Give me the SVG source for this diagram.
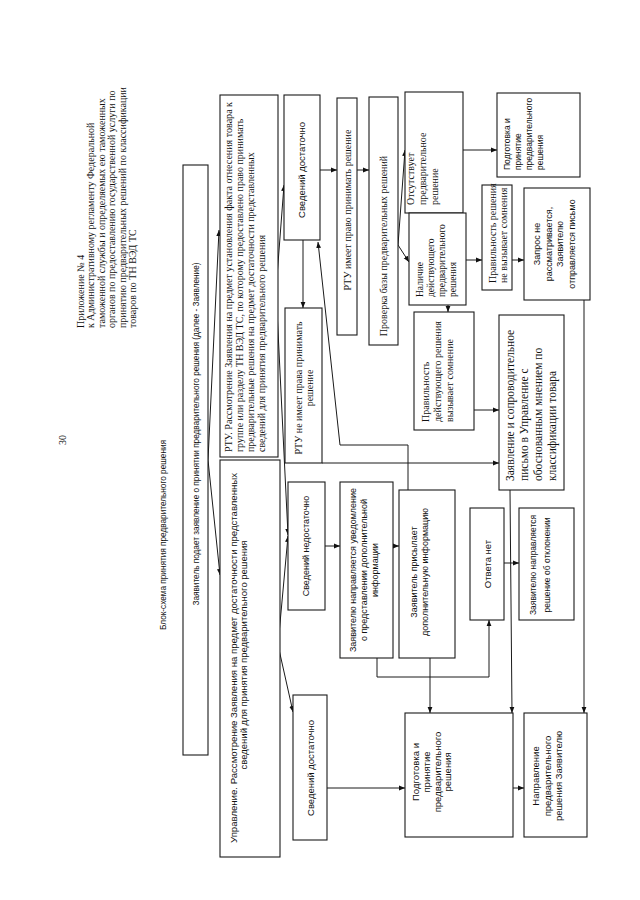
<svg xmlns="http://www.w3.org/2000/svg" width="640" height="900" viewBox="0 0 640 900">
<defs>
<marker id="ah" viewBox="0 0 10 10" refX="10" refY="5" markerWidth="6" markerHeight="6" orient="auto" markerUnits="userSpaceOnUse">
<path d="M0,1 L10,5 L0,9 z" fill="#111"/>
</marker>
<style>
.bx{fill:#fff;stroke:#1a1a1a;stroke-width:1.1}
.ln{fill:none;stroke:#1a1a1a;stroke-width:1;marker-end:url(#ah)}
.s{font-family:"Liberation Sans",Arial,sans-serif;font-size:9px;fill:#111}
.t{font-family:"Liberation Serif","Times New Roman",serif;font-size:10px;fill:#111}
.m{text-anchor:middle}
</style>
</defs>
<rect width="640" height="900" fill="#fff"/>

<g id="header">
<text class="t m" x="65.5" y="440" transform="rotate(-90 65.5 440)">30</text>
<text class="t" x="83.5" y="328" transform="rotate(-90 83.5 328)">Приложение № 4</text>
<text class="t" x="94" y="328" transform="rotate(-90 94 328)">к Административному регламенту Федеральной</text>
<text class="t" x="104.5" y="328" transform="rotate(-90 104.5 328)">таможенной службы и определяемых ею таможенных</text>
<text class="t" x="115" y="328" transform="rotate(-90 115 328)">органов по предоставлению государственной услуги по</text>
<text class="t" x="125.5" y="328" transform="rotate(-90 125.5 328)">принятию предварительных решений по классификации</text>
<text class="t" x="135.5" y="328" transform="rotate(-90 135.5 328)">товаров по ТН ВЭД ТС</text>
<text class="s m" x="166" y="535" transform="rotate(-90 166 535)" textLength="190" lengthAdjust="spacingAndGlyphs">Блок-схема принятия предварительного решения</text>
</g>

<g id="connectors">
<path class="ln" d="M208,460 L219,230"/>
<path class="ln" d="M208,460 L220,575"/>
<path class="ln" d="M276,290 L284,185"/>
<path class="ln" d="M276,290 L288,535"/>
<path class="ln" d="M278,645 L288,536"/>
<path class="ln" d="M278,645 L293,712"/>
<path class="ln" d="M320,170 L337,170"/>
<path class="ln" d="M357,170 L369,170"/>
<path class="ln" d="M303,240 L303,308"/>
<path class="ln" d="M398,245 L405,150"/>
<path class="ln" d="M398,245 L409,262"/>
<path class="ln" d="M463,150 L497,150"/>
<path class="ln" d="M466,260 L482,260"/>
<path class="ln" d="M512,260 L524,260"/>
<path class="ln" d="M448,305 L448,312"/>
<path class="ln" d="M474,410 L499,410"/>
<path class="ln" d="M322,463 L499,463"/>
<path class="ln" d="M325,546 L340,546"/>
<path class="ln" d="M393,546 L399,546"/>
<path class="ln" d="M408,490 L408,445 L340,445 L318,242"/>
<path class="ln" d="M377,658 L377,677 L489,677 L489,620"/>
<path class="ln" d="M430,658 L430,713"/>
<path class="ln" d="M504,563 L519,563"/>
<path class="ln" d="M510,490 L512,713"/>
<path class="ln" d="M584,300 L584,713"/>
<path class="ln" d="M327,788 L405,788"/>
<path class="ln" d="M513,788 L524,788"/>
</g>

<g id="n-applicant">
<rect class="bx" x="183" y="165" width="25" height="590"/>
<text class="s m" x="199" y="434" transform="rotate(-90 199 434)" textLength="343" lengthAdjust="spacingAndGlyphs">Заявитель подает заявление о принятии предварительного решения  (далее - Заявление)</text>
</g>

<g id="n-rtu">
<rect class="bx" x="220" y="95" width="58" height="362"/>
<text class="t" x="231.5" y="452" transform="rotate(-90 231.5 452)" textLength="350" lengthAdjust="spacingAndGlyphs">РТУ.  Рассмотрение Заявления на предмет установления факта отнесения товара к</text>
<text class="t" x="242.5" y="452" transform="rotate(-90 242.5 452)">группе или разделу ТН ВЭД ТС, по которому предоставлено право принимать</text>
<text class="t" x="253.5" y="452" transform="rotate(-90 253.5 452)">предварительные решения на предмет достаточности представленных</text>
<text class="t" x="264.5" y="452" transform="rotate(-90 264.5 452)">сведений для принятия предварительного решения</text>
</g>

<g id="n-upravlenie">
<rect class="bx" x="220" y="460" width="60" height="397"/>
<text class="s m" x="236.5" y="658" transform="rotate(-90 236.5 658)" textLength="370" lengthAdjust="spacingAndGlyphs" style="font-size:9.5px">Управление. Рассмотрение Заявления на предмет достаточности представленных</text>
<text class="s m" x="246.5" y="655" transform="rotate(-90 246.5 655)" style="font-size:9.5px">сведений для принятия предварительного решения</text>
</g>

<g id="n-dost1">
<rect class="bx" x="284" y="95" width="36" height="145"/>
<text class="s m" x="304.5" y="170" transform="rotate(-90 304.5 170)" style="font-size:9.5px">Сведений достаточно</text>
</g>

<g id="n-rtu-net">
<rect class="bx" x="285" y="308" width="37" height="155"/>
<text class="t m" x="301.5" y="388" transform="rotate(-90 301.5 388)">РТУ не имеет права принимать</text>
<text class="t m" x="312.5" y="388" transform="rotate(-90 312.5 388)">решение</text>
</g>

<g id="n-nedost">
<rect class="bx" x="288" y="482" width="37" height="128"/>
<text class="s m" x="308.5" y="546" transform="rotate(-90 308.5 546)">Сведений недостаточно</text>
</g>

<g id="n-dost2">
<rect class="bx" x="293" y="695" width="34" height="145"/>
<text class="s m" x="313.5" y="768" transform="rotate(-90 313.5 768)" style="font-size:9.5px">Сведений достаточно</text>
</g>

<g id="n-rtu-pravo">
<rect class="bx" x="337" y="98" width="20" height="237"/>
<text class="t m" x="350.5" y="210" transform="rotate(-90 350.5 210)">РТУ имеет право принимать решение</text>
</g>

<g id="n-proverka">
<rect class="bx" x="369" y="97" width="29" height="248"/>
<text class="t m" x="386.5" y="246" transform="rotate(-90 386.5 246)">Проверка базы предварительных решений</text>
</g>

<g id="n-otsutstvuet">
<rect class="bx" x="405" y="92" width="58" height="121"/>
<text class="t" x="414" y="205" transform="rotate(-90 414 205)">Отсутствует</text>
<text class="t" x="426" y="205" transform="rotate(-90 426 205)">предварительное</text>
<text class="t" x="438" y="205" transform="rotate(-90 438 205)">решение</text>
</g>

<g id="n-podgotovka1">
<rect class="bx" x="497" y="93" width="83" height="84"/>
<text class="s" x="509.5" y="170" transform="rotate(-90 509.5 170)" style="font-size:8.5px">Подготовка и</text>
<text class="s" x="520.5" y="170" transform="rotate(-90 520.5 170)" style="font-size:8.5px">принятие</text>
<text class="s" x="531.5" y="170" transform="rotate(-90 531.5 170)" style="font-size:8.5px">предварительного</text>
<text class="s" x="542.5" y="170" transform="rotate(-90 542.5 170)" style="font-size:8.5px">решения</text>
</g>

<g id="n-nalichie">
<rect class="bx" x="409" y="213" width="57" height="92"/>
<text class="t" x="422.5" y="297" transform="rotate(-90 422.5 297)" style="font-size:9.5px">Наличие</text>
<text class="t" x="433.5" y="297" transform="rotate(-90 433.5 297)" style="font-size:9.5px">действующего</text>
<text class="t" x="444.5" y="297" transform="rotate(-90 444.5 297)" style="font-size:9.5px">предварительного</text>
<text class="t" x="455.5" y="297" transform="rotate(-90 455.5 297)" style="font-size:9.5px">решения</text>
</g>

<g id="n-ne-vyzyvaet">
<rect class="bx" x="482" y="185" width="30" height="105"/>
<text class="t" x="495.5" y="283" transform="rotate(-90 495.5 283)">Правильность решения</text>
<text class="t" x="506.5" y="283" transform="rotate(-90 506.5 283)">не вызывает сомнения</text>
</g>

<g id="n-zapros">
<rect class="bx" x="524" y="188" width="66" height="112"/>
<text class="s m" x="540" y="244" transform="rotate(-90 540 244)">Запрос не</text>
<text class="s m" x="551.5" y="244" transform="rotate(-90 551.5 244)">рассматривается,</text>
<text class="s m" x="563" y="244" transform="rotate(-90 563 244)">Заявителю</text>
<text class="s m" x="574.5" y="244" transform="rotate(-90 574.5 244)">отправляется письмо</text>
</g>

<g id="n-vyzyvaet">
<rect class="bx" x="414" y="312" width="60" height="118"/>
<text class="t" x="429" y="422" transform="rotate(-90 429 422)">Правильность</text>
<text class="t" x="441" y="422" transform="rotate(-90 441 422)">действующего решения</text>
<text class="t" x="453" y="422" transform="rotate(-90 453 422)">вызывает сомнение</text>
</g>

<g id="n-zayavlenie-pismo">
<rect class="bx" x="499" y="315" width="65" height="175"/>
<text class="t" x="514" y="481" transform="rotate(-90 514 481)" style="font-size:11.5px">Заявление и сопроводительное</text>
<text class="t" x="528" y="481" transform="rotate(-90 528 481)" style="font-size:11.5px">письмо в Управление с</text>
<text class="t" x="542" y="481" transform="rotate(-90 542 481)" style="font-size:11.5px">обоснованным мнением по</text>
<text class="t" x="556" y="481" transform="rotate(-90 556 481)" style="font-size:11.5px">классификации товара</text>
</g>

<g id="n-uvedomlenie">
<rect class="bx" x="340" y="482" width="53" height="176"/>
<text class="s m" x="355.5" y="570" transform="rotate(-90 355.5 570)">Заявителю направляется уведомление</text>
<text class="s m" x="366.5" y="570" transform="rotate(-90 366.5 570)">о представлении дополнительной</text>
<text class="s m" x="378" y="570" transform="rotate(-90 378 570)">информации</text>
</g>

<g id="n-prisylaet">
<rect class="bx" x="399" y="490" width="56" height="168"/>
<text class="s m" x="416.5" y="572" transform="rotate(-90 416.5 572)">Заявитель присылает</text>
<text class="s m" x="427.5" y="572" transform="rotate(-90 427.5 572)">дополнительную информацию</text>
</g>

<g id="n-otveta-net">
<rect class="bx" x="470" y="508" width="34" height="112"/>
<text class="s m" x="490.5" y="564" transform="rotate(-90 490.5 564)" style="font-size:9.5px">Ответа нет</text>
</g>

<g id="n-otklonenie">
<rect class="bx" x="519" y="508" width="55" height="112"/>
<text class="s m" x="536" y="565" transform="rotate(-90 536 565)" style="font-size:8.5px">Заявителю направляется</text>
<text class="s m" x="550" y="565" transform="rotate(-90 550 565)" style="font-size:8.5px">решение об отклонении</text>
</g>

<g id="n-podgotovka2">
<rect class="bx" x="405" y="713" width="108" height="124"/>
<text class="s m" x="418.5" y="772" transform="rotate(-90 418.5 772)" style="font-size:9.5px">Подготовка и</text>
<text class="s m" x="430" y="772" transform="rotate(-90 430 772)" style="font-size:9.5px">принятие</text>
<text class="s m" x="440.5" y="772" transform="rotate(-90 440.5 772)" style="font-size:9.5px">предварительного</text>
<text class="s m" x="451" y="772" transform="rotate(-90 451 772)" style="font-size:9.5px">решения</text>
</g>

<g id="n-napravlenie">
<rect class="bx" x="524" y="713" width="63" height="124"/>
<text class="s m" x="538.5" y="776" transform="rotate(-90 538.5 776)" style="font-size:9.5px">Направление</text>
<text class="s m" x="550.5" y="776" transform="rotate(-90 550.5 776)" style="font-size:9.5px">предварительного</text>
<text class="s m" x="561.5" y="776" transform="rotate(-90 561.5 776)" style="font-size:9.5px">решения Заявителю</text>
</g>
</svg>
